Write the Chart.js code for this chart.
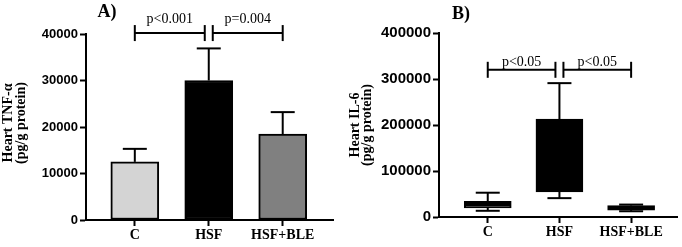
<!DOCTYPE html>
<html>
<head>
<meta charset="utf-8">
<script src="https://cdn.jsdelivr.net/npm/chart.js@4.4.0/dist/chart.umd.min.js"></script>
<style>
  html, body { margin: 0; padding: 0; background: #fff; }
  #wrap { position: relative; width: 682px; height: 247px; }
  canvas { position: absolute; top: 0; }
  #chartA { left: 0; }
  #chartB { left: 341px; }
</style>
</head>
<body>
<div id="wrap">
  <canvas id="chartA" width="341" height="247"></canvas>
  <canvas id="chartB" width="341" height="247"></canvas>
</div>
<script>
// 공통 그룹
const categories = ['C', 'HSF', 'HSF+BLE'];

// A) Heart TNF-α : 평균 + 오차
const tnfMean = [12500, 30000, 18500];
const tnfErr = [2800, 6900, 4700];
const tnfColors = ['#d4d4d4', '#000000', '#808080'];
const tnfPairs = [[0, 1], [1, 2]];
const tnfPLabels = ['p<0.001', 'p=0.004'];
const tnfPLevel = 40200;

// B) Heart IL-6 : 박스플롯
const il6Min = [13500, 41000, 12500];
const il6Q1 = [20000, 54500, 15000];
const il6Median = [27000, 120000, 20000];
const il6Q3 = [34000, 213000, 25000];
const il6Max = [52800, 291000, 27000];
const il6Colors = ['#ffffff', '#000000', '#ffffff'];
const il6Pairs = [[0, 1], [1, 2]];
const il6PLabels = ['p<0.05', 'p<0.05'];
const il6PLevel = 320000;

const SERIF = '"Liberation Serif", "Times New Roman", serif';
const SANS = '"Liberation Sans", Arial, sans-serif';

function line(ctx, x1, y1, x2, y2) {
  ctx.beginPath();
  ctx.moveTo(x1, y1);
  ctx.lineTo(x2, y2);
  ctx.stroke();
}

// 유의성 브래킷
function drawBrackets(ctx, x, y, pairs, labels, level, textGap) {
  const py = y.getPixelForValue(level);
  pairs.forEach((p, i) => {
    const x1 = x.getPixelForValue(p[0]) + (i > 0 ? 4 : 0);
    const x2 = x.getPixelForValue(p[1]) - (i < pairs.length - 1 ? 4 : 0);
    line(ctx, x1, py, x2, py);
    line(ctx, x1, py - 8, x1, py + 8);
    line(ctx, x2, py - 8, x2, py + 8);
    ctx.font = '14px ' + SERIF;
    ctx.textAlign = 'center';
    ctx.textBaseline = 'alphabetic';
    ctx.fillText(labels[i], (x1 + x2) / 2, py - textGap);
  });
}

function drawPanelLabel(ctx, text, cx, baseline) {
  ctx.font = 'bold 18px ' + SERIF;
  ctx.textAlign = 'center';
  ctx.textBaseline = 'alphabetic';
  ctx.fillText(text, cx, baseline);
}

function drawAxisTitle(ctx, lines, xs, cy) {
  ctx.font = 'bold 14px ' + SERIF;
  ctx.textAlign = 'center';
  ctx.textBaseline = 'middle';
  lines.forEach((t, i) => {
    ctx.save();
    ctx.translate(xs[i], cy);
    ctx.rotate(-Math.PI / 2);
    ctx.fillText(t, 0, 0);
    ctx.restore();
  });
}

// x축 (범주 위치를 선형 스케일로)
function xScale(h, min, max) {
  return {
    type: 'linear',
    min: min,
    max: max,
    offset: false,
    afterBuildTicks: s => { s.ticks = categories.map((c, i) => ({ value: i })); },
    afterFit: s => { s.height = h; },
    grid: { drawOnChartArea: false, tickLength: 6, tickWidth: 2, color: '#000', offset: false },
    border: { color: '#000', width: 2 },
    ticks: {
      callback: v => categories[v],
      autoSkip: false,
      maxRotation: 0,
      padding: 1,
      color: '#000',
      font: { family: SERIF, weight: 'bold', size: 14 }
    }
  };
}

function yScale(max, step, w, size) {
  return {
    min: 0,
    max: max,
    afterFit: s => { s.width = w; },
    grid: { drawOnChartArea: false, tickLength: 6, tickWidth: 2, color: '#000' },
    border: { color: '#000', width: 2 },
    ticks: {
      stepSize: step,
      callback: v => String(v),
      padding: 2,
      color: '#000',
      font: { family: SANS, weight: 'bold', size: size }
    }
  };
}

// A 패널 장식
const decoA = {
  id: 'decoA',
  afterDatasetsDraw(chart) {
    const { ctx, scales: { x, y } } = chart;
    ctx.save();
    ctx.strokeStyle = '#000';
    ctx.fillStyle = '#000';
    ctx.lineWidth = 2;
    tnfMean.forEach((m, i) => {
      const cx = x.getPixelForValue(i);
      const top = y.getPixelForValue(m + tnfErr[i]);
      line(ctx, cx, y.getPixelForValue(m), cx, top);
      line(ctx, cx - 12, top, cx + 12, top);
    });
    drawBrackets(ctx, x, y, tnfPairs, tnfPLabels, tnfPLevel, 10);
    drawPanelLabel(ctx, 'A)', 107, 17);
    drawAxisTitle(ctx, ['Heart TNF-α', '(pg/g protein)'], [8, 21.5], 123);
    ctx.restore();
  }
};

// B 패널 장식 (수염, 중앙값)
const decoB = {
  id: 'decoB',
  afterDatasetsDraw(chart) {
    const { ctx, scales: { x, y } } = chart;
    ctx.save();
    ctx.strokeStyle = '#000';
    ctx.fillStyle = '#000';
    ctx.lineWidth = 2;
    il6Q1.forEach((q1, i) => {
      const cx = x.getPixelForValue(i);
      const pMax = y.getPixelForValue(il6Max[i]);
      const pMin = y.getPixelForValue(il6Min[i]);
      line(ctx, cx, y.getPixelForValue(il6Q3[i]), cx, pMax);
      line(ctx, cx - 12, pMax, cx + 12, pMax);
      line(ctx, cx, y.getPixelForValue(q1), cx, pMin);
      line(ctx, cx - 12, pMin, cx + 12, pMin);
      ctx.lineWidth = 3;
      const pMed = y.getPixelForValue(il6Median[i]);
      line(ctx, cx - 23, pMed, cx + 23, pMed);
      ctx.lineWidth = 2;
    });
    drawBrackets(ctx, x, y, il6Pairs, il6PLabels, il6PLevel, 4);
    drawPanelLabel(ctx, 'B)', 120, 19);
    drawAxisTitle(ctx, ['Heart IL-6', '(pg/g protein)'], [14, 26.5], 125);
    ctx.restore();
  }
};

new Chart(document.getElementById('chartA'), {
  type: 'bar',
  data: {
    datasets: [{
      data: categories.map((c, i) => ({ x: i, y: tnfMean[i] })),
      backgroundColor: tnfColors,
      borderColor: '#000',
      borderWidth: 2,
      borderSkipped: false,
      barThickness: 48
    }]
  },
  options: {
    responsive: false,
    animation: false,
    layout: { padding: { left: 0, top: 34, right: 8, bottom: 0 } },
    plugins: { legend: { display: false }, tooltip: { enabled: false } },
    scales: {
      x: xScale(27, -0.66, 2.68),
      y: yScale(40000, 10000, 86, 13)
    }
  },
  plugins: [decoA]
});

new Chart(document.getElementById('chartB'), {
  type: 'bar',
  data: {
    datasets: [{
      data: categories.map((c, i) => ({ x: i, y: [il6Q1[i], il6Q3[i]] })),
      backgroundColor: il6Colors,
      borderColor: '#000',
      borderWidth: 2,
      borderSkipped: false,
      barThickness: 47
    }]
  },
  options: {
    responsive: false,
    animation: false,
    layout: { padding: { left: 0, top: 33, right: 5, bottom: 0 } },
    plugins: { legend: { display: false }, tooltip: { enabled: false } },
    scales: {
      x: xScale(30, -0.68, 2.64),
      y: yScale(400000, 100000, 98, 15)
    }
  },
  plugins: [decoB]
});
</script>
</body>
</html>
